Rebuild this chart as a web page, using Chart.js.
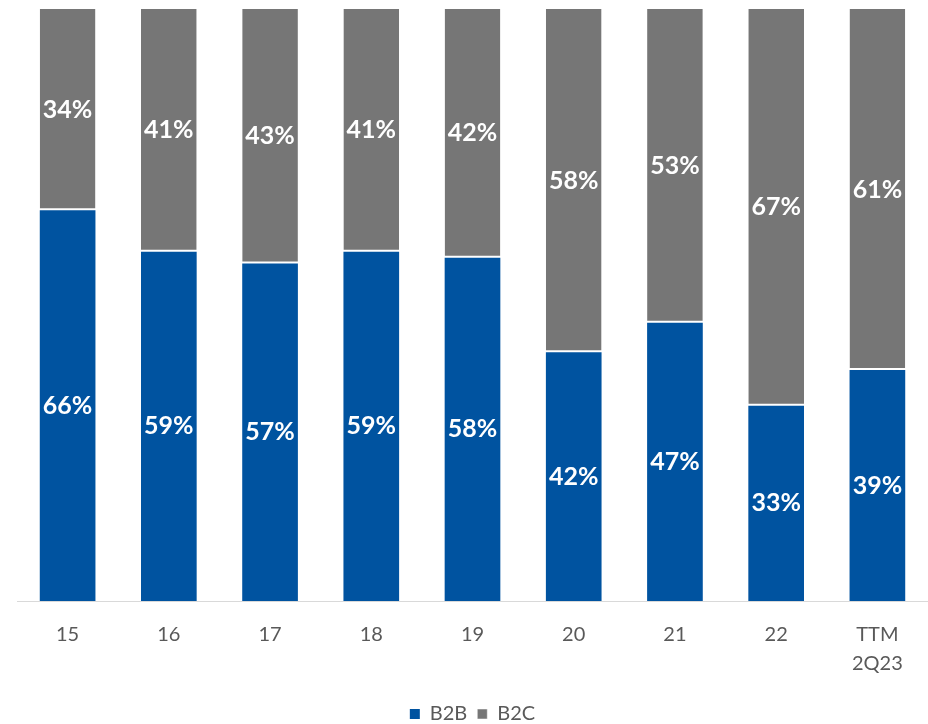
<!DOCTYPE html>
<html>
<head>
<meta charset="utf-8">
<script src="https://cdn.jsdelivr.net/npm/chart.js@4"></script>
<style>
  html, body { margin: 0; padding: 0; background: #fff; }
  #wrap { width: 928px; height: 724px; }
</style>
</head>
<body>
<div id="wrap"><canvas id="c"></canvas></div>
<script>
'use strict';

const categories = ['15', '16', '17', '18', '19', '20', '21', '22', ['TTM', '2Q23']];
const b2b = [66, 59, 57, 59, 58, 42, 47, 33, 39];
const b2c = [34, 41, 43, 41, 42, 58, 53, 67, 61];

const BLUE = '#0053a0';
const GRAY = '#767676';
const FONT = 'Lato, "Open Sans", sans-serif';

// white % labels in the middle of every segment
const segLabels = {
  id: 'segLabels',
  afterDatasetsDraw(chart) {
    const ctx = chart.ctx;
    ctx.save();
    ctx.fillStyle = '#fff';
    ctx.font = `bold 25px ${FONT}`;
    ctx.textAlign = 'center';
    ctx.textBaseline = 'middle';
    chart.data.datasets.forEach((ds, di) => {
      chart.getDatasetMeta(di).data.forEach((bar, i) => {
        const p = bar.getProps(['x', 'y', 'base'], true);
        ctx.fillText(ds.data[i] + '%', p.x, (p.y + p.base) / 2);
      });
    });
    ctx.restore();
  }
};

new Chart(document.getElementById('c'), {
  type: 'bar',
  data: {
    labels: categories,
    datasets: [
      { label: 'B2B', data: b2b, backgroundColor: BLUE, borderWidth: 0 },
      { label: 'B2C', data: b2c, backgroundColor: GRAY, borderColor: '#fff',
        borderWidth: { bottom: 2, top: 0, left: 0, right: 0 }, borderSkipped: false }
    ]
  },
  options: {
    responsive: true,
    maintainAspectRatio: false,
    animation: false,
    datasets: { bar: { barPercentage: 0.55, categoryPercentage: 1 } },
    layout: { padding: { top: 9, left: 17, right: 0, bottom: -10 } },
    scales: {
      x: {
        stacked: true,
        grid: { display: false },
        border: { display: true, color: '#d9d9d9', width: 1 },
        ticks: { color: '#595959', font: { family: FONT, size: 20, lineHeight: 1.45 }, padding: 11, maxRotation: 0 },
        afterFit(scale) { scale.height += 5; }
      },
      y: {
        stacked: true, min: 0, max: 100, display: false
      }
    },
    plugins: {
      legend: {
        position: 'bottom',
        labels: { color: '#595959', font: { family: FONT, size: 20 }, boxWidth: 10, boxHeight: 10, padding: 10 }
      },
      tooltip: { enabled: false }
    }
  },
  plugins: [segLabels]
});
</script>
</body>
</html>
